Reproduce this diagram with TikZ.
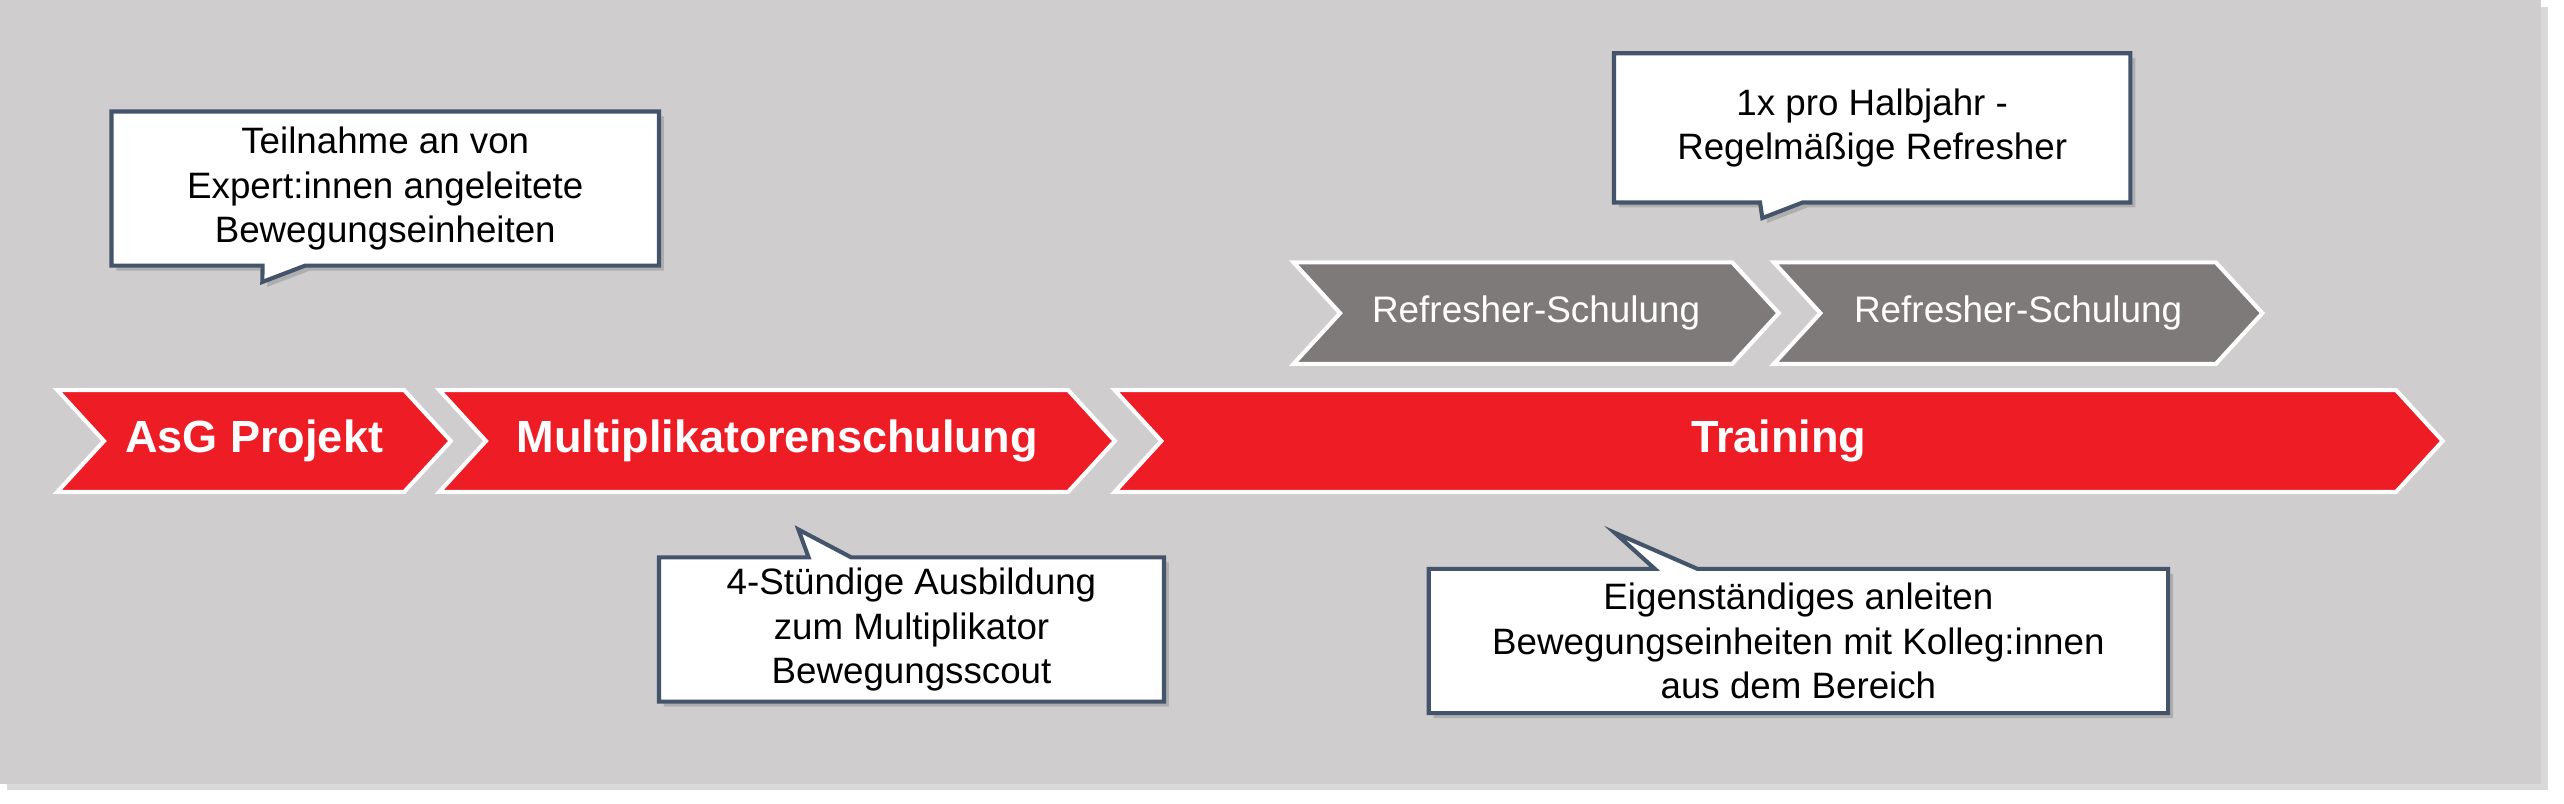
\documentclass[tikz,border=0pt]{standalone}
\usepackage{fontspec}
\setmainfont{Liberation Sans}
\usetikzlibrary{shapes.arrows,shapes.callouts,shadows,positioning}
\definecolor{bgGrey}{HTML}{CFCDCE}
\definecolor{stepRed}{HTML}{EE1C25}
\definecolor{stepGrey}{HTML}{7F7A7A}
\definecolor{boxLine}{HTML}{44546A}
\tikzset{
  phase/.style={
      signal, signal to=east, signal from=west,
      signal pointer angle=95,
      draw=white, line width=2.5pt,
      fill=stepRed, text=white,
      font=\fontsize{27.5}{32}\selectfont\bfseries,
      minimum height=62pt, inner sep=0pt,
  },
  refresher/.style={
      phase, fill=stepGrey,
      font=\fontsize{22.5}{26}\selectfont,
  },
  note/.style={
      rectangle callout,
      draw=boxLine, line width=2.5pt,
      fill=white, align=center,
      font=\fontsize{22.4}{27}\selectfont,
      callout pointer width=26pt,
      drop shadow={shadow xshift=3pt, shadow yshift=-3pt, opacity=.4},
  },
}
\begin{document}
\begin{tikzpicture}[x=1pt,y=-1pt]
  \useasboundingbox (0,0) rectangle (1564,490);
  \fill[bgGrey, drop shadow={shadow xshift=4pt, shadow yshift=-4pt, opacity=.3}]
    (0,0) rectangle (1550,478);

  % phases
  \node[phase, minimum width=240pt] (asg) at (155,269) {AsG Projekt};
  \node[phase, minimum width=412pt] (multi) at (474,269) {Multiplikatorenschulung};
  \node[phase, minimum width=810pt] (train) at (1085,269) {Training};
  \node[refresher, minimum width=296pt] (ref1) at (937,191) {Refresher-Schulung};
  \node[refresher, minimum width=298pt] (ref2) at (1231,191) {Refresher-Schulung};

  % notes
  \node[note, minimum width=334pt, minimum height=94pt,
        callout absolute pointer={(160,172)}] (expert) at (235,115)
    {Teilnahme an von\\Expert:innen angeleitete\\Bewegungseinheiten};
  \node[note, minimum width=308pt, minimum height=88pt,
        callout absolute pointer={(487,323)}] (scout) at (556,384)
    {4-Stündige Ausbildung\\zum Multiplikator\\Bewegungsscout};
  \node[note, minimum width=451pt, minimum height=88pt,
        callout absolute pointer={(985,325)}] (self) at (1097,391)
    {Eigenständiges anleiten\\Bewegungseinheiten mit Kolleg:innen\\aus dem Bereich};
  \node[note, minimum width=315pt, minimum height=91pt,
        callout absolute pointer={(1075,133)}] (half) at (1142,78)
    {1x pro Halbjahr -\\Regelmäßige Refresher};
\end{tikzpicture}
\end{document}
